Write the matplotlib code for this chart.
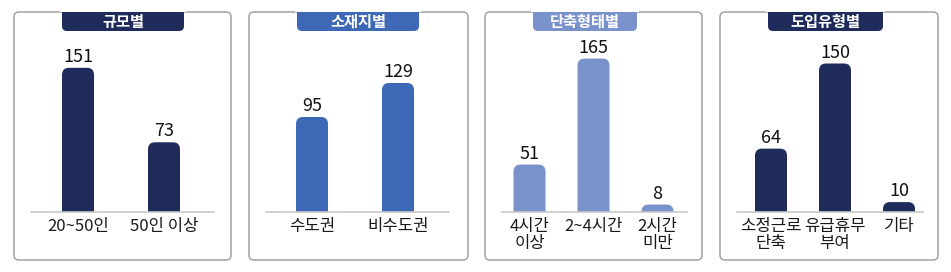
import matplotlib
matplotlib.use('Agg')
import matplotlib.pyplot as plt
from matplotlib.patches import FancyBboxPatch, Rectangle

plt.rcParams['font.family'] = ['Noto Sans CJK KR', 'DejaVu Sans']

W, H = 951, 272

# ---- data ----
titles = ['규모별', '소재지별', '단축형태별', '도입유형별']
size_labels = ['20~50인', '50인 이상']
size_values = [151, 73]
region_labels = ['수도권', '비수도권']
region_values = [95, 129]
form_labels = ['4시간\n이상', '2~4시간', '2시간\n미만']
form_values = [51, 165, 8]
type_labels = ['소정근로\n단축', '유급휴무\n부여', '기타']
type_values = [64, 150, 10]

NAVY = '#1f2b5b'
BLUE = '#3c68b5'
LIGHT = '#7a92cb'

# panel layout in pixels: box (x0, x1), tab (x0, x1), axes (x0, x1), px per unit
panels = [
    dict(labels=size_labels, values=size_values, color=NAVY,
         box=(14, 231), tab=(62, 184), axx=(31, 214), first=78, step=86, scale=0.955),
    dict(labels=region_labels, values=region_values, color=BLUE,
         box=(249, 468), tab=(297, 419), axx=(266, 449), first=312, step=86, scale=1.0),
    dict(labels=form_labels, values=form_values, color=LIGHT,
         box=(485, 702), tab=(533, 637), axx=(502, 687), first=529.5, step=64, scale=0.93),
    dict(labels=type_labels, values=type_values, color=NAVY,
         box=(720, 938), tab=(768, 883), axx=(737, 923), first=771, step=64, scale=0.99),
]

BOX_TOP, BOX_BOT = 12, 260
TAB_BOT = 31
BASE = 212
AX_TOP = 30
BAR_W = 32

fig = plt.figure(figsize=(W / 100, H / 100), dpi=100)
fig.patch.set_facecolor('white')


def fx(px):
    return px / W


def fy(py):
    return 1 - py / H


for i, p in enumerate(panels):
    # outer box
    bx0, bx1 = p['box']
    box = FancyBboxPatch((fx(bx0), fy(BOX_BOT)), fx(bx1 - bx0), (BOX_BOT - BOX_TOP) / H,
                         boxstyle='round,pad=0,rounding_size=%f' % fx(5), mutation_aspect=W / H,
                         transform=fig.transFigure, facecolor='white',
                         edgecolor='#9ea3aa', linewidth=1.1, zorder=1)
    fig.patches.append(box)

    # title tab (rounded bottom, flat top)
    tx0, tx1 = p['tab']
    tab = FancyBboxPatch((fx(tx0), fy(TAB_BOT)), fx(tx1 - tx0), (TAB_BOT - BOX_TOP + 10) / H,
                         boxstyle='round,pad=0,rounding_size=%f' % fx(5), mutation_aspect=W / H,
                         transform=fig.transFigure, facecolor=p['color'],
                         edgecolor='none', zorder=2)
    fig.patches.append(tab)
    fig.patches.append(Rectangle((fx(tx0 - 2), fy(BOX_TOP - 0.5)), fx(tx1 - tx0 + 4),
                                 (BOX_TOP - 0.5) / H, transform=fig.transFigure,
                                 facecolor='white', edgecolor='none', zorder=3))
    fig.text(fx((tx0 + tx1) / 2), fy((BOX_TOP + TAB_BOT) / 2 + 0.5), titles[i],
             color='white', fontsize=11, fontweight='bold', ha='center', va='center', zorder=4)

    # bar axes
    ax0, ax1 = p['axx']
    ax = fig.add_axes([fx(ax0), fy(BASE), fx(ax1 - ax0), (BASE - AX_TOP) / H])
    ax.set_facecolor('none')
    ax.set_zorder(5)
    n = len(p['values'])
    xs = list(range(n))
    step = p['step']
    ax.set_xlim((ax0 - p['first']) / step, (ax1 - p['first']) / step)
    ax.set_ylim(0, (BASE - AX_TOP) / p['scale'])
    width = BAR_W / step

    bars = ax.bar(xs, p['values'], width=width, color=p['color'])
    r_px = 7
    for b in bars:
        x0 = b.get_x()
        h = b.get_height()
        b.remove()
        r_y = r_px / p['scale']
        rb = FancyBboxPatch((x0, -2 * r_y), width, h + 2 * r_y,
                            boxstyle='round,pad=0,rounding_size=%f' % (r_px / step),
                            mutation_aspect=step / p['scale'],
                            facecolor=p['color'], edgecolor='none')
        ax.add_patch(rb)
        ax.text(x0 + width / 2, h + 2 / p['scale'], str(int(h)), ha='center', va='bottom',
                fontsize=13, fontweight='medium', color='#111111')

    ax.set_xticks(xs)
    ax.set_xticklabels(p['labels'], fontsize=12, color='#1a1a1a', linespacing=1.05)
    ax.tick_params(axis='x', length=0, pad=4)
    ax.set_yticks([])
    for s in ['top', 'left', 'right']:
        ax.spines[s].set_visible(False)
    ax.spines['bottom'].set_color('#c8c8c8')
    ax.spines['bottom'].set_linewidth(1.2)

fig.savefig('out.png', dpi=100, facecolor='white')
